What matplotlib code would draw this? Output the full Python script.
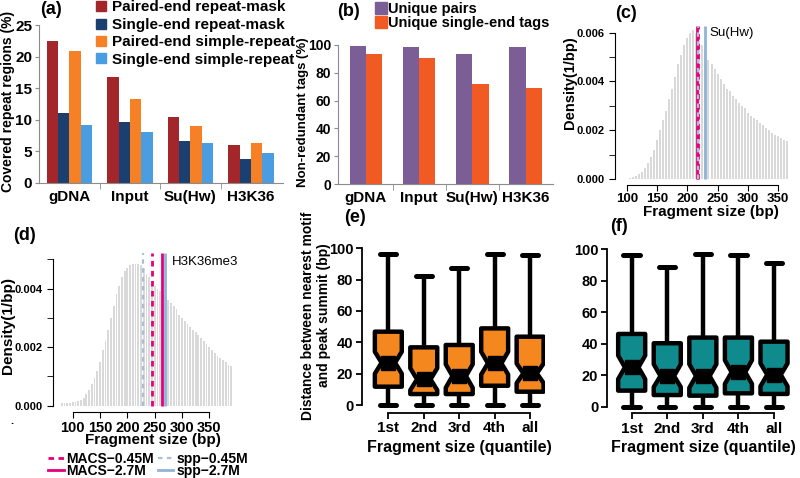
import matplotlib
matplotlib.use('Agg')
import matplotlib.pyplot as plt
import numpy as np
from matplotlib.lines import Line2D

plt.rcParams['font.family'] = ['Liberation Sans', 'DejaVu Sans']
plt.rcParams['font.weight'] = 'bold'
plt.rcParams['axes.labelweight'] = 'bold'
plt.rcParams['axes.unicode_minus'] = True

# ---------------- data ----------------
samples = ['gDNA', 'Input', 'Su(Hw)', 'H3K36']
a_labels = ['Paired-end repeat-mask', 'Single-end repeat-mask',
            'Paired-end simple-repeat', 'Single-end simple-repeat']
pe_repeatmask = [22.5, 16.8, 10.5, 6.06]
se_repeatmask = [11.1, 9.65, 6.65, 3.85]
pe_simple = [20.9, 13.3, 8.97, 6.28]
se_simple = [9.1, 8.07, 6.4, 4.7]

b_labels = ['Unique pairs', 'Unique single-end tags']
unique_pairs = [99.5, 98.8, 93.3, 98.3]
unique_single = [93.3, 90.4, 71.9, 68.8]

c_start, c_step = 100, 5
c_density = [0.00002, 0.00004, 0.00007, 0.00012, 0.0002, 0.0003, 0.00045, 0.00065,
             0.0009, 0.0012, 0.0016, 0.002, 0.0024, 0.0028, 0.0033, 0.0037, 0.0042,
             0.0047, 0.0051, 0.0055, 0.0058, 0.006, 0.0061, 0.006, 0.0058, 0.0055,
             0.0052, 0.0049, 0.0047, 0.0045, 0.0043, 0.0041, 0.0039, 0.0037, 0.0036,
             0.0034, 0.0033, 0.0031, 0.003, 0.0029, 0.0027, 0.0026, 0.0025, 0.0024,
             0.0023, 0.0022, 0.0021, 0.002, 0.0019, 0.0018, 0.00175, 0.0017, 0.0016,
             0.00155]
c_estimates = {'MACS-2.7M': 216, 'MACS-0.45M': 217, 'spp-0.45M': 218, 'spp-2.7M': 229}

d_start, d_step = 80, 5
d_density = [0.00008, 0.00008, 0.00009, 0.0001, 0.00011, 0.00013, 0.00015, 0.0002,
             0.00028, 0.0004, 0.00055, 0.00075, 0.00095, 0.0012, 0.0015, 0.0019,
             0.0022, 0.0026, 0.003, 0.0034, 0.0038, 0.0041, 0.0044, 0.0046, 0.0047,
             0.0048, 0.00485, 0.00485, 0.00485, 0.0048, 0.0047, 0.0045, 0.0044,
             0.0042, 0.0041, 0.0040, 0.0039, 0.0038, 0.0037, 0.0036, 0.0035, 0.0034,
             0.0033, 0.0031, 0.0030, 0.0029, 0.0028, 0.0027, 0.0026, 0.0025, 0.0024,
             0.0023, 0.0022, 0.0021, 0.0020, 0.0019, 0.0018, 0.0017, 0.00162,
             0.00155, 0.00148, 0.0014, 0.00134]
d_estimates = {'MACS-0.45M': 245, 'MACS-2.7M': 263, 'spp-0.45M': 228, 'spp-2.7M': 268}

quantiles = ['1st', '2nd', '3rd', '4th', 'all']
e_whislo = [0, 0, 0, 0, 0]
e_q1 = [11.7, 7.0, 7.0, 12.3, 8.5]
e_med = [27.0, 16.4, 18.5, 26.6, 20.2]
e_q3 = [46.8, 36.8, 38.3, 48.9, 43.6]
e_whishi = [96.4, 82.5, 87.6, 96.4, 95.7]
e_cilo = [20.0, 9.5, 11.0, 19.5, 14.0]
e_cihi = [34.0, 23.5, 26.0, 34.0, 26.5]

f_whislo = [0, 0, 0, 0, 0]
f_q1 = [10.2, 7.4, 7.0, 8.5, 8.1]
f_med = [25.0, 19.5, 19.5, 21.9, 20.3]
f_q3 = [46.2, 40.3, 43.9, 43.9, 41.3]
f_whishi = [96.2, 89.0, 97.0, 96.2, 91.1]
f_cilo = [17.5, 12.5, 12.0, 14.5, 13.0]
f_cihi = [32.5, 27.0, 27.0, 29.5, 27.5]

# ---------------- layout ----------------
W, H = 800, 478
fig = plt.figure(figsize=(8, 4.78), dpi=100)


def rect(x0, y0, x1, y1):
    return [x0 / W, 1 - y1 / H, (x1 - x0) / W, (y1 - y0) / H]


def ftxt(x, y, s, **kw):
    fig.text(x / W, 1 - y / H, s, **kw)


GREY = '#8c8c8c'


def ylab(axl, text, xc, yc, size):
    axl.set_ylabel(text, fontsize=size)
    axl.yaxis.set_label_coords(xc, yc)
    axl.yaxis.label.set_va('center')


def xlab(axl, text, xc, yc, size):
    axl.set_xlabel(text, fontsize=size)
    axl.xaxis.set_label_coords(xc, yc)
    axl.xaxis.label.set_va('center')


def bar_style(axb, ymax, ystep, ysize):
    axb.set_ylim(0, ymax)
    for s in ['top', 'right']:
        axb.spines[s].set_visible(False)
    for s in ['left', 'bottom']:
        axb.spines[s].set_color(GREY)
        axb.spines[s].set_linewidth(0.8)
    axb.set_yticks(range(0, ymax + 1, ystep))
    axb.set_xticks(np.arange(len(samples)))
    axb.set_xticklabels(samples, fontsize=11)
    axb.set_xticks([0.5, 1.5, 2.5], minor=True)
    axb.tick_params(axis='x', which='major', length=0, pad=5)
    axb.tick_params(axis='x', which='minor', length=4, color=GREY)
    axb.tick_params(axis='y', length=3, color=GREY, labelsize=ysize, pad=2)


# ---------------- (a) ----------------
ax = fig.add_axes(rect(39, 25, 283, 183))
a_colors = ['#a3262a', '#1b3f6e', '#f58025', '#4a9de0']
x = np.arange(len(samples))
bw = 0.187
for i, (vals, col) in enumerate(zip([pe_repeatmask, se_repeatmask, pe_simple, se_simple], a_colors)):
    ax.bar(x + (i - 1.5) * bw, vals, bw, color=col, linewidth=0)
ax.set_xlim(-0.504, 3.53)
bar_style(ax, 25, 5, 11)
ylab(ax, 'Covered repeat regions (%)', -0.126, 0.515, 10)
hd = [Line2D([], [], marker='s', ls='none', color=c, markersize=7.5) for c in a_colors]
fig.legend(hd, a_labels, loc='upper left', bbox_to_anchor=(96 / W, 1 - 0.5 / H),
           frameon=False, fontsize=11, handlelength=0.7, handletextpad=0.35,
           labelspacing=0.22, borderpad=0, borderaxespad=0)

# ---------------- (b) ----------------
ax = fig.add_axes(rect(338, 45, 553, 184))
b_colors = ['#7b5e96', '#f15a22']
bw = 0.306
ax.bar(x - bw / 2, unique_pairs, bw, color=b_colors[0], linewidth=0)
ax.bar(x + bw / 2, unique_single, bw, color=b_colors[1], linewidth=0)
ax.set_xlim(-0.526, 3.517)
bar_style(ax, 100, 20, 10)
ylab(ax, 'Non-redundant tags (%)', -0.162, 0.52, 9.5)
hd = [Line2D([], [], marker='s', ls='none', color=c, markersize=8.5) for c in b_colors]
fig.legend(hd, b_labels, loc='upper left', bbox_to_anchor=(376 / W, 1 - 2 / H),
           frameon=False, fontsize=10.5, handlelength=0.7, handletextpad=0.1,
           labelspacing=0.0, borderpad=0, borderaxespad=0)

# ---------------- line styles for fragment estimates ----------------
line_styles = {
    'MACS-0.45M': dict(color='#e6007e', ls=(0, (2, 1.6)), lw=2.0),
    'MACS-2.7M': dict(color='#e6007e', ls='-', lw=2.0),
    'spp-0.45M': dict(color='#a9bfd8', ls=(0, (2, 2)), lw=1.6),
    'spp-2.7M': dict(color='#8fb4d6', ls='-', lw=2.0),
}
draw_order = ['MACS-2.7M', 'spp-2.7M', 'MACS-0.45M', 'spp-0.45M']


def hist_axes(axh, start, step, dens, xlim, ylim, ytop, ymax_line, estimates, xfont):
    bins = start + step * np.arange(len(dens))
    axh.bar(bins, dens, width=3.3, color='#d9d9d9', linewidth=0)
    axh.set_xlim(*xlim)
    axh.set_ylim(*ylim)
    for s in ['top', 'right']:
        axh.spines[s].set_visible(False)
    axh.spines['left'].set_bounds(0, ytop)
    axh.spines['bottom'].set_bounds(100, 350)
    axh.set_xticks(range(100, 351, 50))
    axh.set_yticks([0, 0.002, 0.004] + ([0.006] if ytop >= 0.006 else []))
    axh.yaxis.set_major_formatter(matplotlib.ticker.FormatStrFormatter('%.3f'))
    axh.set_yticks([0.001, 0.003, 0.005], minor=True)
    axh.tick_params(axis='y', which='both', length=4, labelsize=8)
    axh.tick_params(axis='x', length=4, pad=2)
    for t in axh.get_xticklabels():
        t.set_fontproperties(xfont)
    for k in draw_order:
        axh.vlines(estimates[k], 0, ymax_line, clip_on=False, zorder=3, **line_styles[k])


# ---------------- (c) ----------------
ax = fig.add_axes(rect(615, 25, 790, 185))
hist_axes(ax, c_start, c_step, c_density, (80.7, 369.5), (-0.000246, 0.006316),
          0.006, 0.00628, c_estimates,
          dict(family=['Liberation Sans Narrow', 'Liberation Sans'], weight='bold', size=9.5))
ax.text(237, 0.006, 'Su(Hw)', fontsize=9.5, fontweight='normal', ha='left', va='center')
ylab(ax, 'Density(1/bp)', -0.257, 0.6375, 10.5)
xlab(ax, 'Fragment size (bp)', 0.547, -0.167, 11)

# ---------------- (d) ----------------
ax = fig.add_axes(rect(53, 250, 235, 412.3))
hist_axes(ax, d_start, d_step, d_density, (63.9, 397), (-0.000225, 0.005314),
          0.005, 0.00521, d_estimates,
          dict(family=['Liberation Sans', 'DejaVu Sans'], weight='bold', size=10.5))
ax.text(281, 0.00491, 'H3K36me3', fontsize=9.5, fontweight='normal', ha='left', va='center')
ylab(ax, 'Density(1/bp)', -0.2456, 0.535, 11)
xlab(ax, 'Fragment size (bp)', 0.547, -0.171, 11)
leg_order = ['MACS-0.45M', 'MACS-2.7M', 'spp-0.45M', 'spp-2.7M']
hd = [Line2D([], [], **line_styles[k]) for k in leg_order]
fig.legend(hd, [k.replace('-', '\u2212') for k in leg_order], ncol=2,
           loc='center', bbox_to_anchor=(148 / W, 1 - 465 / H), frameon=False,
           fontsize=10, handlelength=1.1, handletextpad=0.2, columnspacing=0.3,
           labelspacing=-0.1, borderpad=0, borderaxespad=0)
ftxt(12, 421, '.', fontsize=8, ha='center', va='center')


# ---------------- (e), (f) ----------------
def box_axes(axb, whislo, q1, med, q3, whishi, cilo, cihi, color, xlim, ylim):
    stats = [dict(whislo=a, q1=b, med=c, q3=d, whishi=e, cilo=f, cihi=g, fliers=[])
             for a, b, c, d, e, f, g in zip(whislo, q1, med, q3, whishi, cilo, cihi)]
    pos = np.arange(1, len(stats) + 1)
    axb.bxp(stats, positions=pos, widths=0.76, shownotches=True, patch_artist=True,
            showfliers=False, capwidths=0.46,
            boxprops=dict(facecolor=color, edgecolor='black', linewidth=3.2,
                          joinstyle='round'),
            whiskerprops=dict(color='black', linewidth=3.2, solid_capstyle='butt'),
            capprops=dict(color='black', linewidth=3.6, solid_capstyle='round'),
            medianprops=dict(color='black', linewidth=3))
    axb.plot(pos, med, 's', color='black', markersize=9.5, zorder=5)
    axb.set_xlim(*xlim)
    axb.set_ylim(*ylim)
    for s in ['top', 'right']:
        axb.spines[s].set_visible(False)
    axb.spines['left'].set_bounds(0, 100)
    axb.spines['bottom'].set_bounds(1, 5)
    for s in ['left', 'bottom']:
        axb.spines[s].set_linewidth(1.3)
    axb.set_yticks(range(0, 101, 20))
    axb.set_xticks(pos)
    axb.set_xticklabels(quantiles)
    axb.tick_params(axis='y', length=4, width=1.3, labelsize=10.5, pad=2)
    axb.tick_params(axis='x', length=4, width=1.3, labelsize=11, pad=2)


ax = fig.add_axes(rect(361.7, 245, 545, 412.7))
box_axes(ax, e_whislo, e_q1, e_med, e_q3, e_whishi, e_cilo, e_cihi, '#f5871f',
         (0.249, 5.42), (-4.9, 102.1))
ylab(ax, 'Distance between nearest motif\nand peak summit (bp)', -0.249, 0.58, 10)
xlab(ax, 'Fragment size (quantile)', 0.531, -0.21, 11.5)

ax = fig.add_axes(rect(606.7, 245, 795, 413.3))
box_axes(ax, f_whislo, f_q1, f_med, f_q3, f_whishi, f_cilo, f_cihi, '#0f8b8d',
         (0.298, 5.59), (-4.2, 102.7))
xlab(ax, 'Fragment size (quantile)', 0.511, -0.206, 11.5)

# ---------------- panel labels ----------------
for lab, (px, py) in {'(a)': (51, 9), '(b)': (349, 11), '(c)': (626, 13),
                      '(d)': (24, 235), '(e)': (355, 217), '(f)': (619, 226)}.items():
    ftxt(px, py, lab, fontsize=13, ha='center', va='center')

fig.savefig('out.png', dpi=100)
